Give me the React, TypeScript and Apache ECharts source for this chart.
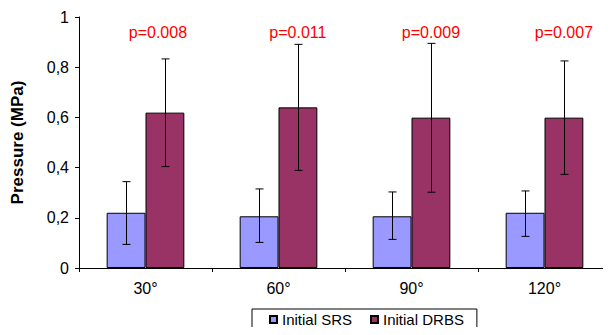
import React, { useEffect, useRef } from "react";
import * as echarts from "echarts";

const categories = ["30°", "60°", "90°", "120°"];
const srsValues = [0.22, 0.206, 0.206, 0.22];
const srsLow = [0.094, 0.102, 0.114, 0.126];
const srsHigh = [0.344, 0.315, 0.303, 0.307];
const drbsValues = [0.619, 0.64, 0.599, 0.599];
const drbsLow = [0.404, 0.389, 0.302, 0.373];
const drbsHigh = [0.833, 0.891, 0.895, 0.825];
const pLabels = ["p=0.008", "p=0.011", "p=0.009", "p=0.007"];
const pLabelY = 0.9375;

const GAP = 0.416;
const FONT = "Liberation Sans, Arial, sans-serif";

function errorRender(side: number) {
  return (params: any, api: any) => {
    const idx = api.value(0);
    const lo = api.coord([idx, api.value(1)]);
    const hi = api.coord([idx, api.value(2)]);
    const band = api.size([1, 0])[0];
    const bw = (band * (1 - GAP)) / 2;
    const x = Math.round(lo[0] + (side * bw) / 2) + 0.5;
    const cap = 4;
    const style = { stroke: "#000", lineWidth: 1 };
    return {
      type: "group",
      children: [
        { type: "line", shape: { x1: x, y1: hi[1], x2: x, y2: lo[1] }, style },
        { type: "line", shape: { x1: x - cap, y1: hi[1], x2: x + cap, y2: hi[1] }, style },
        { type: "line", shape: { x1: x - cap, y1: lo[1], x2: x + cap, y2: lo[1] }, style },
      ],
    };
  };
}

export default function App() {
  const ref = useRef<HTMLDivElement>(null);
  useEffect(() => {
    if (!ref.current) return;
    const chart = echarts.init(ref.current, undefined, { renderer: "svg" });
    chart.setOption({
      animation: false,
      textStyle: { fontFamily: FONT },
      grid: { left: 79, top: 17, height: 251, width: 534 },
      legend: {
        data: ["Initial SRS", "Initial DRBS"],
        left: 252,
        top: 309,
        borderColor: "#000",
        borderWidth: 1,
        padding: [3, 13, 3, 17],
        itemWidth: 7,
        itemHeight: 7,
        itemGap: 18,
        icon: "rect",
        textStyle: { fontSize: 15, color: "#000", fontFamily: FONT },
      },
      xAxis: {
        type: "category",
        data: categories,
        axisLine: { lineStyle: { color: "#000", width: 1 } },
        axisTick: { show: true, length: 4, lineStyle: { color: "#000" } },
        axisLabel: { fontSize: 16, color: "#000", margin: 12, fontFamily: FONT },
      },
      yAxis: {
        type: "value",
        min: 0,
        max: 1,
        interval: 0.2,
        name: "Pressure (MPa)",
        nameLocation: "middle",
        nameGap: 53,
        nameTextStyle: { fontSize: 17, fontWeight: "bold", color: "#000", fontFamily: FONT },
        axisLine: { show: true, lineStyle: { color: "#000", width: 1 } },
        axisTick: { show: true, length: 4, lineStyle: { color: "#000" } },
        axisLabel: {
          fontSize: 16,
          color: "#000",
          margin: 10,
          fontFamily: FONT,
          formatter: (v: number) => String(Math.round(v * 10) / 10).replace(".", ","),
        },
        splitLine: { show: false },
      },
      series: [
        {
          name: "Initial SRS",
          type: "bar",
          data: srsValues,
          barGap: "0%",
          barCategoryGap: GAP * 100 + "%",
          itemStyle: { color: "#9999FF", borderColor: "#000", borderWidth: 1 },
        },
        {
          name: "Initial DRBS",
          type: "bar",
          data: drbsValues,
          barGap: "0%",
          barCategoryGap: GAP * 100 + "%",
          itemStyle: { color: "#993366", borderColor: "#000", borderWidth: 1 },
        },
        {
          type: "custom",
          name: "srsErr",
          renderItem: errorRender(-1),
          data: categories.map((_, i) => [i, srsLow[i], srsHigh[i]]),
          encode: { x: 0, y: [1, 2] },
          z: 10,
          silent: true,
        },
        {
          type: "custom",
          name: "drbsErr",
          renderItem: errorRender(1),
          data: categories.map((_, i) => [i, drbsLow[i], drbsHigh[i]]),
          encode: { x: 0, y: [1, 2] },
          z: 10,
          silent: true,
        },
        {
          type: "custom",
          name: "pLabels",
          renderItem: (params: any, api: any) => {
            const idx = api.value(0);
            const p = api.coord([idx, api.value(1)]);
            const band = api.size([1, 0])[0];
            const bw = (band * (1 - GAP)) / 2;
            return {
              type: "text",
              x: p[0] + bw / 2 - (params.dataIndex === 0 ? 7 : 0),
              y: p[1],
              style: {
                text: pLabels[params.dataIndex],
                fill: "#FF0000",
                fontSize: 16,
                fontFamily: FONT,
                align: "center",
                verticalAlign: "middle",
              },
            };
          },
          data: categories.map((_, i) => [i, pLabelY]),
          encode: { x: 0, y: 1 },
          z: 10,
          silent: true,
        },
      ],
    });
    return () => chart.dispose();
  }, []);
  return <div ref={ref} style={{ width: 611, height: 335, margin: -8 }} />;
}
